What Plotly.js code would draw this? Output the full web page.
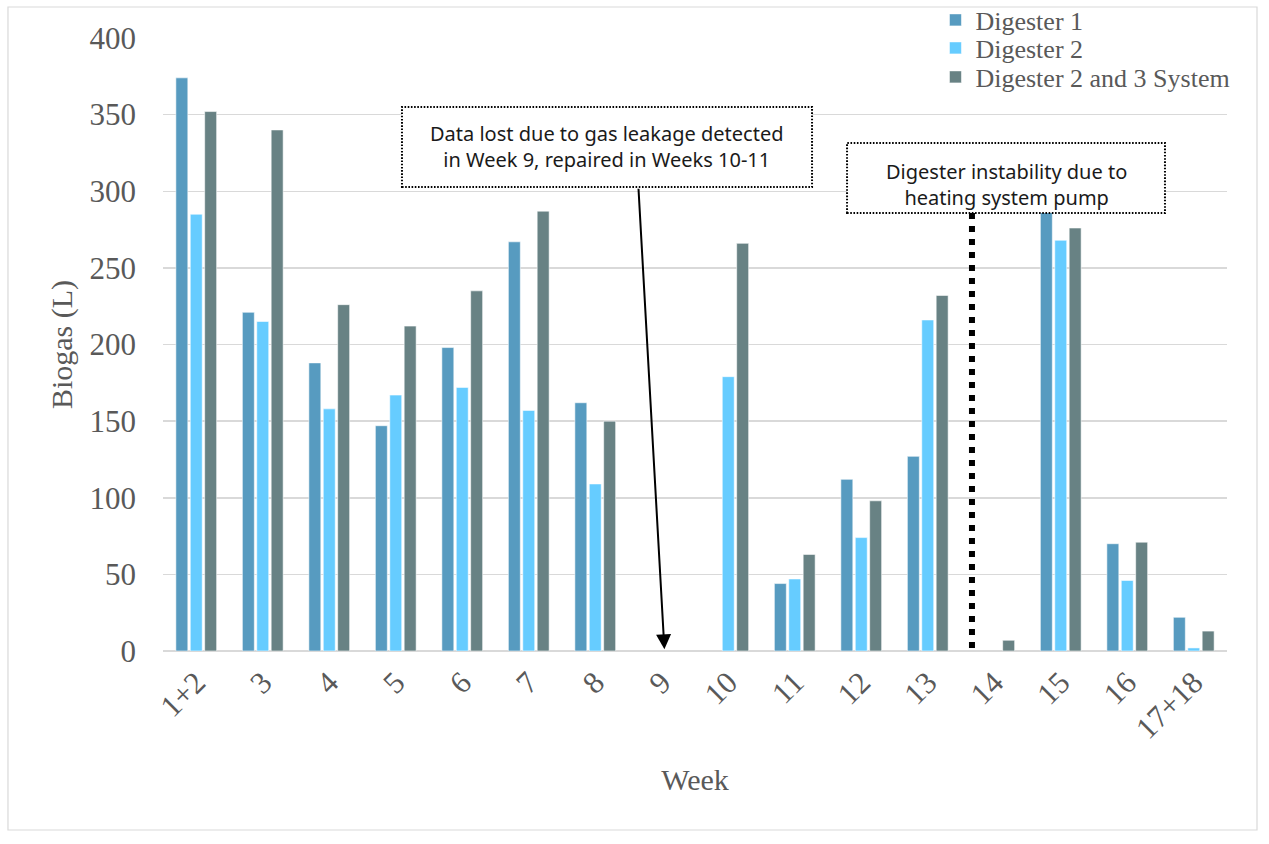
<!DOCTYPE html>
<html>
<head>
<meta charset="utf-8">
<script src="https://cdn.plot.ly/plotly-3.0.1.min.js"></script>
<style>
  html, body { margin: 0; padding: 0; background: #ffffff; }
  #chart { width: 1269px; height: 844px; }
</style>
</head>
<body>
<div id="chart"></div>
<script>
// Weekly biogas production per digester (litres)
const weeks = ['1+2', '3', '4', '5', '6', '7', '8', '9', '10', '11', '12', '13', '14', '15', '16', '17+18'];
const digester1 = [374, 221, 188, 147, 198, 267, 162, null, null, 44, 112, 127, null, 287, 70, 22];
const digester2 = [285, 215, 158, 167, 172, 157, 109, null, 179, 47, 74, 216, null, 268, 46, 2];
const system23 = [352, 340, 226, 212, 235, 287, 150, null, 266, 63, 98, 232, 7, 276, 71, 13];

const seriesNames = ['Digester 1', 'Digester 2', 'Digester 2 and 3 System'];
const seriesColors = ['#579bc0', '#66ccff', '#688284'];

const noteLeak = 'Data lost due to gas leakage detected<br>in Week 9, repaired in Weeks 10-11';
const notePump = 'Digester instability due to<br>heating system pump';

const serif = 'Liberation Serif, Times New Roman, serif';
const sans = 'Noto Sans, Open Sans, sans-serif';
const grey = '#595959';

// each series gets its own legend box so the entries can sit tightly stacked
const legendIds = ['legend', 'legend2', 'legend3'];
const legendRows = [1.0294, 0.9837, 0.9364];

const traces = [digester1, digester2, system23].map((vals, i) => ({
  type: 'bar',
  name: seriesNames[i],
  legend: legendIds[i],
  x: weeks,
  y: vals,
  marker: { color: seriesColors[i], line: { color: 'rgba(255,255,255,0.55)', width: 1 } },
  hoverinfo: 'x+y+name'
}));

const layout = {
  width: 1269,
  height: 844,
  margin: { l: 163, r: 42, t: 38, b: 193, autoexpand: false },
  paper_bgcolor: '#ffffff',
  plot_bgcolor: '#ffffff',
  barmode: 'group',
  bargap: 0.35,
  bargroupgap: 0.17,
  showlegend: true,
  xaxis: {
    type: 'category',
    tickangle: -45,
    tickfont: { family: serif, size: 31, color: grey },
    ticks: '',
    ticklabelstandoff: 6,
    showgrid: false,
    showline: false,
    zeroline: false,
    title: { text: 'Week', font: { family: serif, size: 30, color: grey }, standoff: 24 },
    fixedrange: true
  },
  yaxis: {
    range: [0, 400],
    dtick: 50,
    tickfont: { family: serif, size: 31, color: grey },
    ticks: '',
    ticklabelstandoff: 26,
    showgrid: true,
    gridcolor: '#d9d9d9',
    gridwidth: 1.5,
    zeroline: true,
    zerolinecolor: '#d9d9d9',
    zerolinewidth: 1.5,
    showline: false,
    title: { text: 'Biogas (L)', font: { family: serif, size: 30, color: grey }, standoff: 8 },
    fixedrange: true
  },
  shapes: [
    // chart frame
    { type: 'rect', xref: 'paper', yref: 'paper', x0: -0.1457, x1: 1.0282, y0: -0.292, y1: 1.0506,
      line: { color: '#d9d9d9', width: 1.2 }, fillcolor: 'rgba(0,0,0,0)', layer: 'below' },
    // note frames
    { type: 'rect', xref: 'paper', yref: 'paper', x0: 0.2246, x1: 0.6100, y0: 0.7569, y1: 0.8874,
      line: { color: '#000000', width: 2, dash: '1.6px,1.6px' }, fillcolor: '#ffffff' },
    { type: 'rect', xref: 'paper', yref: 'paper', x0: 0.6429, x1: 0.9417, y0: 0.7145, y1: 0.8287,
      line: { color: '#000000', width: 2, dash: '1.6px,1.6px' }, fillcolor: '#ffffff' },
    // week 14 marker line
    { type: 'line', xref: 'x', yref: 'y', x0: 11.665, x1: 11.665, y0: 285.8, y1: 0,
      line: { color: '#000000', width: 6, dash: '6px,7px' } }
  ],
  annotations: [
    { xref: 'paper', yref: 'paper', x: 0.4173, y: 0.823, xanchor: 'center', yanchor: 'middle',
      text: noteLeak, showarrow: false, align: 'center',
      font: { family: sans, size: 20, color: '#1a1a1a' } },
    { xref: 'paper', yref: 'paper', x: 0.7923, y: 0.7618, xanchor: 'center', yanchor: 'middle',
      text: notePump, showarrow: false, align: 'center',
      font: { family: sans, size: 20, color: '#1a1a1a' } },
    // arrow pointing at the missing week 9 data
    { xref: 'x', yref: 'y', x: 7.04, y: 1.1, text: '', showarrow: true,
      axref: 'pixel', ayref: 'pixel', ax: -26, ay: -462,
      arrowhead: 2, arrowsize: 1.5, arrowwidth: 2, arrowcolor: '#000000' }
  ]
};

legendIds.forEach((id, i) => {
  layout[id] = {
    x: 0.726, xanchor: 'left',
    y: legendRows[i], yanchor: 'middle',
    bgcolor: 'rgba(0,0,0,0)',
    borderwidth: 0,
    font: { family: serif, size: 26, color: grey }
  };
});

Plotly.newPlot('chart', traces, layout, { displayModeBar: false, staticPlot: true });
</script>
</body>
</html>
